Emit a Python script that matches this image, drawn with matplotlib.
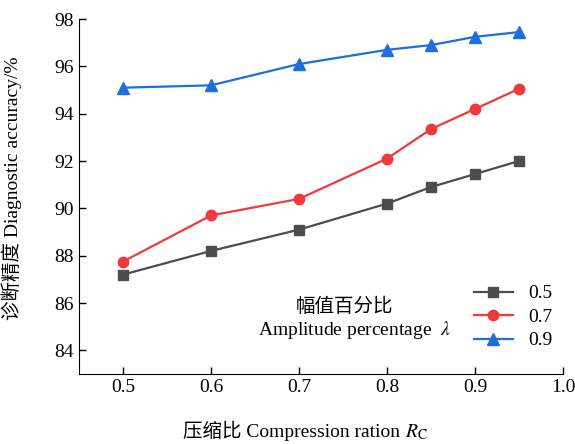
import matplotlib.pyplot as plt

plt.rcParams['font.family'] = ['Liberation Serif', 'Noto Sans CJK SC']
plt.rcParams['mathtext.fontset'] = 'stix'

# compression ratio
x = [0.5, 0.6, 0.7, 0.8, 0.85, 0.9, 0.95]
# diagnostic accuracy (%) for each amplitude percentage
acc_05 = [87.2, 88.2, 89.1, 90.2, 90.9, 91.45, 92.0]
acc_07 = [87.75, 89.7, 90.4, 92.1, 93.35, 94.2, 95.05]
acc_09 = [95.1, 95.2, 96.1, 96.7, 96.9, 97.25, 97.45]
labels = ['0.5', '0.7', '0.9']

fig = plt.figure(figsize=(5.75, 4.44), dpi=100)
ax = fig.add_axes([0.1374, 0.1577, 0.979 - 0.1374, 0.957 - 0.1577])

ax.plot(x, acc_05, '-s', color='#4d4d4d', lw=1.6, ms=7, label=labels[0])
ax.plot(x, acc_07, '-o', color='#f0393c', lw=1.6, ms=7.5, label=labels[1])
ax.plot(x, acc_09, '-^', color='#1c6fdc', lw=1.6, ms=8, label=labels[2])

ax.set_xlim(0.45, 1.0)
ax.set_ylim(83, 98)
ax.set_xticks([0.5, 0.6, 0.7, 0.8, 0.9, 1.0])
ax.set_yticks(range(84, 99, 2))
ax.spines['top'].set_visible(False)
ax.spines['right'].set_visible(False)
ax.tick_params(direction='in', length=5, width=1, labelsize=14)

ax.set_ylabel('诊断精度 Diagnostic accuracy/%', fontsize=14)
ax.yaxis.set_label_coords(-0.118, 0.524)

# x label: plain text part + math part (mathtext has no CJK glyphs)
xl = fig.text(183 / 575, 0.015, '压缩比 Compression ration ', fontsize=14,
              ha='left', va='baseline')
fig.canvas.draw()
bb = xl.get_window_extent()
fig.text(bb.x1 / fig.bbox.width, 0.015, r'$R_{\mathrm{C}}$', fontsize=14,
         ha='left', va='baseline')

ax.legend(loc='lower right', bbox_to_anchor=(1.015, 0.02), frameon=False,
          fontsize=14, handlelength=2.0, labelspacing=0.3, handletextpad=0.8)
ax.text(0.548, 0.189, '幅值百分比', transform=ax.transAxes, fontsize=14,
        ha='center', va='center')
ax.text(0.57, 0.124, r'Amplitude percentage  $\lambda$', transform=ax.transAxes,
        fontsize=14, ha='center', va='center')

plt.savefig('out.png', dpi=100)
